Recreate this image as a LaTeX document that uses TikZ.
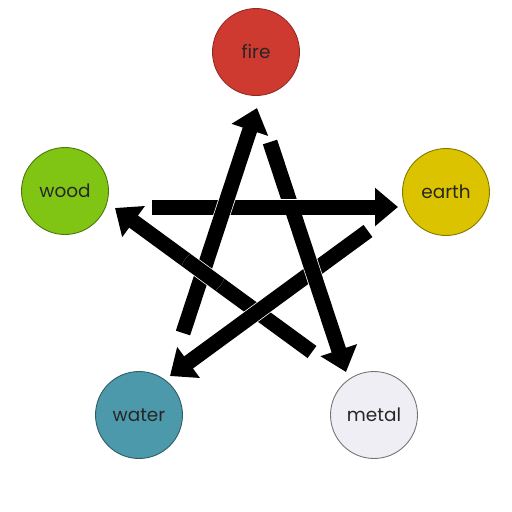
\documentclass[tikz,border=0pt]{standalone}
\usepackage{fontspec}
\setmainfont{Poppins}
\usepackage{tikz}
\usetikzlibrary{arrows.meta}
\definecolor{firered}{RGB}{207,58,48}
\definecolor{woodgreen}{RGB}{128,196,20}
\definecolor{earthyellow}{RGB}{219,195,0}
\definecolor{waterblue}{RGB}{76,153,171}
\definecolor{metalgrey}{RGB}{238,238,244}
\tikzset{
  element/.style={circle,minimum size=1.74cm,inner sep=0pt,line width=0.5pt,
    font=\fontsize{10.5}{12}\selectfont,text=black!85},
  flow/.style={line width=0.3cm,-{Triangle[width=0.74cm,length=0.46cm]}},
  halo/.style={white,line width=0.33cm,-{Triangle[width=0.76cm,length=0.48cm]}}
}
\newcommand{\flowarrow}[2]{\draw[halo] (#1) -- (#2); \draw[flow] (#1) -- (#2);}

\begin{document}
\begin{tikzpicture}[x=0.02cm,y=-0.02cm]
\useasboundingbox (0,0) rectangle (512,512);

\node[element,fill=firered,draw=firered!70!black] (fire) at (256,52) {fire};
\node[element,fill=woodgreen,draw=woodgreen!60!black] (wood) at (65,191) {wood};
\node[element,fill=earthyellow,draw=earthyellow!60!black] (earth) at (446,192) {earth};
\node[element,fill=waterblue,draw=waterblue!60!black] (water) at (139,415) {water};
\node[element,fill=metalgrey,draw=black!55] (metal) at (374,415) {metal};

\coordinate (water-out) at (183,333);
\coordinate (fire-in) at (257,108);
\coordinate (fire-out) at (270,142);
\coordinate (metal-in) at (346,372);
\coordinate (metal-out) at (312,352);
\coordinate (wood-in) at (115,208);
\coordinate (wood-out) at (152,207);
\coordinate (earth-in) at (398,207);
\coordinate (earth-out) at (368,231);
\coordinate (water-in) at (170,376);

\flowarrow{metal-out}{wood-in}
\flowarrow{earth-out}{water-in}
\flowarrow{fire-out}{metal-in}
\flowarrow{wood-out}{earth-in}
\flowarrow{water-out}{fire-in}

\begin{scope}
\clip (203,272) circle (22);
\flowarrow{metal-out}{wood-in}
\end{scope}
\end{tikzpicture}
\end{document}
